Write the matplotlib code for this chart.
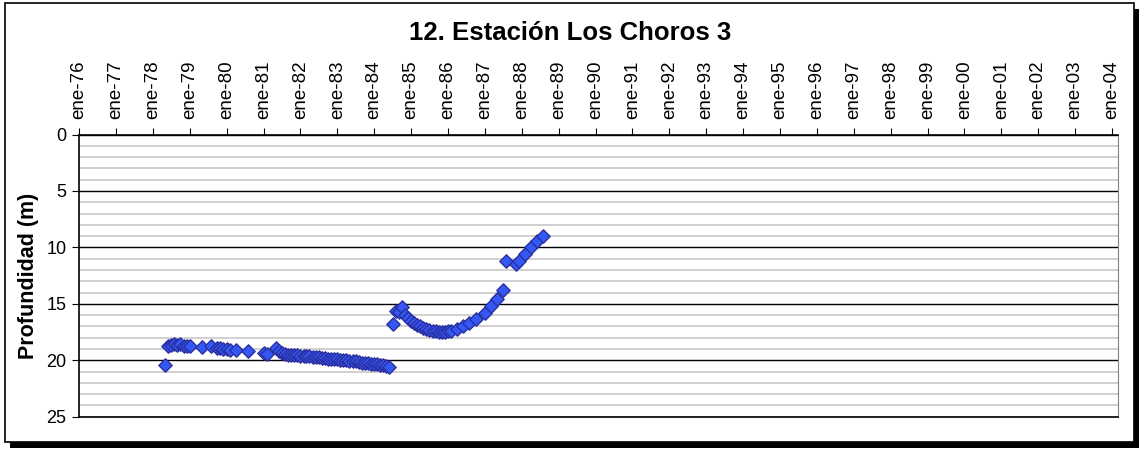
import datetime as dt
from matplotlib import pyplot as plt
from matplotlib.patches import Rectangle
from matplotlib.ticker import MultipleLocator, FixedLocator
import matplotlib.dates as mdates

plt.rcParams['font.family'] = ['Liberation Sans', 'DejaVu Sans']

# fechas (año-mes) y profundidad del nivel (m)
fechas = [
    "1978-05", "1978-06", "1978-07", "1978-08", "1978-09", "1978-10", "1978-11", "1978-12",
    "1979-01", "1979-05", "1979-08", "1979-10", "1979-11", "1979-12",
    "1980-01", "1980-02", "1980-04", "1980-08",
    "1981-01", "1981-02", "1981-05", "1981-06", "1981-07",
    "1981-08", "1981-09", "1981-10", "1981-11", "1981-12",
    "1982-01", "1982-02", "1982-03", "1982-04", "1982-05", "1982-06",
    "1982-07", "1982-08", "1982-09", "1982-10", "1982-11", "1982-12",
    "1983-01", "1983-02", "1983-03", "1983-04", "1983-05", "1983-06",
    "1983-07", "1983-08", "1983-09", "1983-10", "1983-11", "1983-12",
    "1984-01", "1984-02", "1984-03", "1984-04", "1984-05", "1984-06",
    "1984-07", "1984-08", "1984-09", "1984-10", "1984-11", "1984-12",
    "1985-01", "1985-02", "1985-03", "1985-04", "1985-05", "1985-06",
    "1985-07", "1985-08", "1985-09", "1985-10", "1985-11", "1985-12",
    "1986-01", "1986-02", "1986-04", "1986-06", "1986-08", "1986-10",
    "1987-01", "1987-03", "1987-05", "1987-07", "1987-08", "1987-11", "1987-12",
    "1988-02", "1988-04", "1988-06", "1988-08",
]
profundidad = [
    20.4, 18.75, 18.65, 18.6, 18.65, 18.6, 18.7, 18.7,
    18.75, 18.8, 18.7, 18.9, 18.95, 19.0,
    19.0, 19.05, 19.1, 19.2,
    19.35, 19.45, 18.9, 19.2, 19.4,
    19.45, 19.5, 19.5, 19.55, 19.55,
    19.6, 19.6, 19.65, 19.65, 19.7, 19.75,
    19.75, 19.8, 19.8, 19.85, 19.85, 19.9,
    19.9, 19.95, 20.0, 20.0, 20.05, 20.1,
    20.1, 20.15, 20.2, 20.2, 20.25, 20.3,
    20.3, 20.35, 20.4, 20.45, 20.5, 20.6,
    16.8, 15.6, 15.75, 15.25, 16.0, 16.3,
    16.5, 16.7, 16.9, 17.0, 17.15, 17.25,
    17.3, 17.4, 17.45, 17.5, 17.5, 17.5,
    17.45, 17.4, 17.2, 17.0, 16.7, 16.35,
    15.8, 15.15, 14.6, 13.8, 11.2, 11.5, 11.2,
    10.6, 9.95, 9.4, 9.0,
]
anios = list(range(1976, 2005))

x = [dt.datetime.strptime(f, "%Y-%m") for f in fechas]

fig = plt.figure(figsize=(11.39, 4.49), dpi=100)

# marco exterior con sombra
fig.patches.append(Rectangle((10 / 1139, 1 / 449), 1129 / 1139, 439 / 449,
                             transform=fig.transFigure, facecolor='black',
                             edgecolor='none', zorder=0))
fig.patches.append(Rectangle((5 / 1139, 7 / 449), 1129 / 1139, 439 / 449,
                             transform=fig.transFigure, facecolor='white',
                             edgecolor='black', lw=1.2, zorder=1))

ax = fig.add_axes([79 / 1139, 1 - 416.7 / 449, 1039 / 1139, 282.2 / 449])
ax.set_zorder(2)

ax.scatter(x, profundidad, marker='D', s=46, facecolor='#3358f5',
           edgecolor='#2b2f9e', linewidth=1.0, zorder=5, clip_on=False)

ax.set_ylim(25, 0)
ax.set_xlim(dt.datetime(1976, 1, 1), dt.datetime(2004, 3, 1))

ax.yaxis.set_major_locator(MultipleLocator(5))
ax.yaxis.set_minor_locator(MultipleLocator(1))
ax.grid(which='major', axis='y', color='black', lw=1.0, zorder=1)
ax.grid(which='minor', axis='y', color='#c8c8c8', lw=1.2, zorder=0)

ticks = [mdates.date2num(dt.datetime(a, 1, 1)) for a in anios]
ax.xaxis.set_major_locator(FixedLocator(ticks))
ax.set_xticklabels(["ene-%02d" % (a % 100) for a in anios], rotation=90)
ax.xaxis.tick_top()
ax.tick_params(axis='x', which='both', top=True, bottom=False, direction='out',
               length=5, width=0.8, labelsize=13.5, pad=6)
ax.tick_params(axis='y', which='major', direction='out', length=5, width=0.8,
               labelsize=13, pad=4)
ax.tick_params(axis='y', which='minor', left=False)

for s in ['top', 'left', 'bottom']:
    ax.spines[s].set_color('black')
    ax.spines[s].set_linewidth(1.2)
ax.spines['right'].set_color('#808080')
ax.spines['right'].set_linewidth(0.8)

ax.set_ylabel("Profundidad (m)", fontsize=15.5, fontweight='bold', labelpad=5)

fig.text(570 / 1139, 1 - 33 / 449, "12. Estación Los Choros 3", fontsize=18.5,
         fontweight='bold', ha='center', va='center')

fig.savefig("out.png", dpi=100)
